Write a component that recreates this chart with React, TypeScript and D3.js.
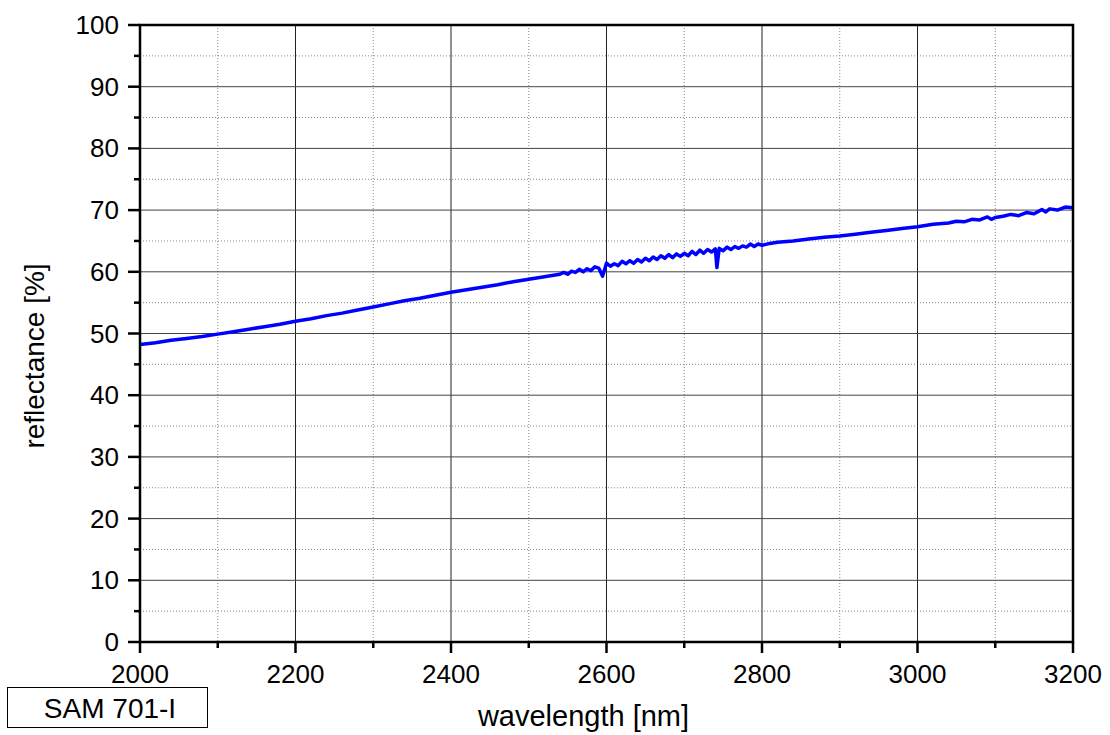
import React, { useEffect, useRef } from "react";
import * as d3 from "d3";

// spectrum (nm, %)
const wavelengths = [
  2000, 2020, 2040, 2060, 2080, 2100, 2120, 2140, 2160, 2180, 2200, 2220, 2240, 2260, 2280,
  2300, 2320, 2340, 2360, 2380, 2400, 2420, 2440, 2460, 2480, 2500, 2520, 2540,
  2545, 2550, 2555, 2560, 2565, 2570, 2575, 2580, 2585, 2590, 2595, 2600, 2605, 2610, 2615,
  2620, 2625, 2630, 2635, 2640, 2645, 2650, 2655, 2660, 2665, 2670, 2675, 2680, 2685, 2690,
  2695, 2700, 2705, 2710, 2715, 2720, 2725, 2730, 2735, 2740, 2742, 2745, 2750, 2755, 2760,
  2765, 2770, 2775, 2780, 2785, 2790, 2795, 2800, 2810, 2820,
  2840, 2860, 2880, 2900, 2920, 2940, 2960, 2980, 3000, 3020, 3040,
  3050, 3060, 3070, 3080, 3090, 3095, 3100, 3110, 3120, 3130, 3140, 3150, 3160, 3165, 3170,
  3180, 3190, 3200,
];
const reflectance = [
  48.2, 48.5, 48.9, 49.2, 49.5, 49.9, 50.3, 50.7, 51.1, 51.5, 52.0, 52.4, 52.9, 53.3, 53.8,
  54.3, 54.8, 55.3, 55.7, 56.2, 56.7, 57.1, 57.5, 57.9, 58.4, 58.8, 59.2, 59.6,
  59.9, 59.6, 60.1, 59.9, 60.4, 60.0, 60.5, 60.2, 60.8, 60.6, 59.3, 61.4, 60.9, 61.3, 61.0,
  61.7, 61.3, 61.8, 61.4, 62.0, 61.6, 62.2, 61.8, 62.4, 62.0, 62.6, 62.2, 62.8, 62.3, 62.9,
  62.5, 63.0, 62.6, 63.3, 62.8, 63.5, 63.0, 63.6, 63.2, 63.7, 60.7, 63.8, 63.4, 64.0, 63.6,
  64.1, 63.8, 64.2, 64.0, 64.5, 64.1, 64.5, 64.3, 64.6, 64.8,
  65.0, 65.3, 65.6, 65.8, 66.1, 66.4, 66.7, 67.0, 67.3, 67.7, 67.9,
  68.2, 68.1, 68.5, 68.4, 68.9, 68.5, 68.8, 69.0, 69.3, 69.1, 69.6, 69.4, 70.1, 69.7, 70.2,
  70.0, 70.5, 70.4,
];
const xTicks = [2000, 2200, 2400, 2600, 2800, 3000, 3200];
const yTicks = [0, 10, 20, 30, 40, 50, 60, 70, 80, 90, 100];
const sampleName = "SAM 701-I";

const W = 1110;
const H = 735;
const left = 140, right = 1073, top = 25, bottom = 642;
const font = "'Liberation Sans', Arial, sans-serif";

export default function App() {
  const svgRef = useRef<SVGSVGElement>(null);

  useEffect(() => {
    const svg = d3.select(svgRef.current);
    svg.selectAll("*").remove();

    const x = d3.scaleLinear().domain([2000, 3200]).range([left, right]);
    const y = d3.scaleLinear().domain([0, 100]).range([bottom, top]);

    const minorX = d3.range(2100, 3200, 200);
    const minorY = d3.range(5, 100, 10);

    // grid - dotted minor, solid major
    const grid = svg.append("g");
    grid.selectAll(".mx").data(minorX).join("line")
      .attr("x1", (d) => x(d)).attr("x2", (d) => x(d)).attr("y1", top).attr("y2", bottom)
      .attr("stroke", "#888").attr("stroke-width", 1).attr("stroke-dasharray", "1,2");
    grid.selectAll(".my").data(minorY).join("line")
      .attr("y1", (d) => y(d)).attr("y2", (d) => y(d)).attr("x1", left).attr("x2", right)
      .attr("stroke", "#888").attr("stroke-width", 1).attr("stroke-dasharray", "1,2");
    grid.selectAll(".Mx").data(xTicks.slice(1, -1)).join("line")
      .attr("x1", (d) => x(d)).attr("x2", (d) => x(d)).attr("y1", top).attr("y2", bottom)
      .attr("stroke", "#222").attr("stroke-width", 1);
    grid.selectAll(".My").data(yTicks.slice(1, -1)).join("line")
      .attr("y1", (d) => y(d)).attr("y2", (d) => y(d)).attr("x1", left).attr("x2", right)
      .attr("stroke", "#444").attr("stroke-width", 1);

    // the spectrum
    const pts: [number, number][] = wavelengths.map((w, i) => [w, reflectance[i]]);
    const line = d3.line<[number, number]>().x((d) => x(d[0])).y((d) => y(d[1]));
    svg.append("path").datum(pts).attr("d", line).attr("fill", "none")
      .attr("stroke", "#0000ff").attr("stroke-width", 3.5).attr("stroke-linejoin", "round");

    // frame
    svg.append("rect").attr("x", left).attr("y", top).attr("width", right - left).attr("height", bottom - top)
      .attr("fill", "none").attr("stroke", "#000").attr("stroke-width", 2.5);

    // axes
    const xAxis = svg.append("g").attr("transform", `translate(0,${bottom})`);
    xAxis.selectAll(".t").data(xTicks).join("line")
      .attr("x1", (d) => x(d)).attr("x2", (d) => x(d)).attr("y1", 0).attr("y2", 11)
      .attr("stroke", "#000").attr("stroke-width", 2.5);
    xAxis.selectAll(".m").data(minorX).join("line")
      .attr("x1", (d) => x(d)).attr("x2", (d) => x(d)).attr("y1", 0).attr("y2", 6)
      .attr("stroke", "#000").attr("stroke-width", 2.5);
    xAxis.selectAll("text").data(xTicks).join("text")
      .attr("x", (d) => x(d)).attr("y", 41).attr("text-anchor", "middle")
      .attr("font-family", font).attr("font-size", 26).attr("fill", "#000")
      .text((d) => d);

    const yAxis = svg.append("g").attr("transform", `translate(${left},0)`);
    yAxis.selectAll(".t").data(yTicks).join("line")
      .attr("y1", (d) => y(d)).attr("y2", (d) => y(d)).attr("x1", -12).attr("x2", 0)
      .attr("stroke", "#000").attr("stroke-width", 2.5);
    yAxis.selectAll(".m").data(minorY).join("line")
      .attr("y1", (d) => y(d)).attr("y2", (d) => y(d)).attr("x1", -6).attr("x2", 0)
      .attr("stroke", "#000").attr("stroke-width", 2.5);
    yAxis.selectAll("text").data(yTicks).join("text")
      .attr("x", -21).attr("y", (d) => y(d) + 9).attr("text-anchor", "end")
      .attr("font-family", font).attr("font-size", 26).attr("fill", "#000")
      .text((d) => d);

    // titles
    svg.append("text").attr("x", (left + right) / 2 - 23).attr("y", 726).attr("text-anchor", "middle")
      .attr("font-family", font).attr("font-size", 29).text("wavelength [nm]");
    svg.append("text").attr("transform", "translate(44,356) rotate(-90)").attr("text-anchor", "middle")
      .attr("font-family", font).attr("font-size", 28).text("reflectance [%]");

    // sample label box
    svg.append("rect").attr("x", 7.5).attr("y", 687.5).attr("width", 200).attr("height", 40)
      .attr("fill", "#fff").attr("stroke", "#000").attr("stroke-width", 1);
    svg.append("text").attr("x", 110).attr("y", 718).attr("text-anchor", "middle")
      .attr("font-family", font).attr("font-size", 28).text(sampleName);
  }, []);

  return (
    <svg ref={svgRef} width={W} height={H}
      style={{ position: "absolute", left: 0, top: 0, background: "#fff" }} />
  );
}
